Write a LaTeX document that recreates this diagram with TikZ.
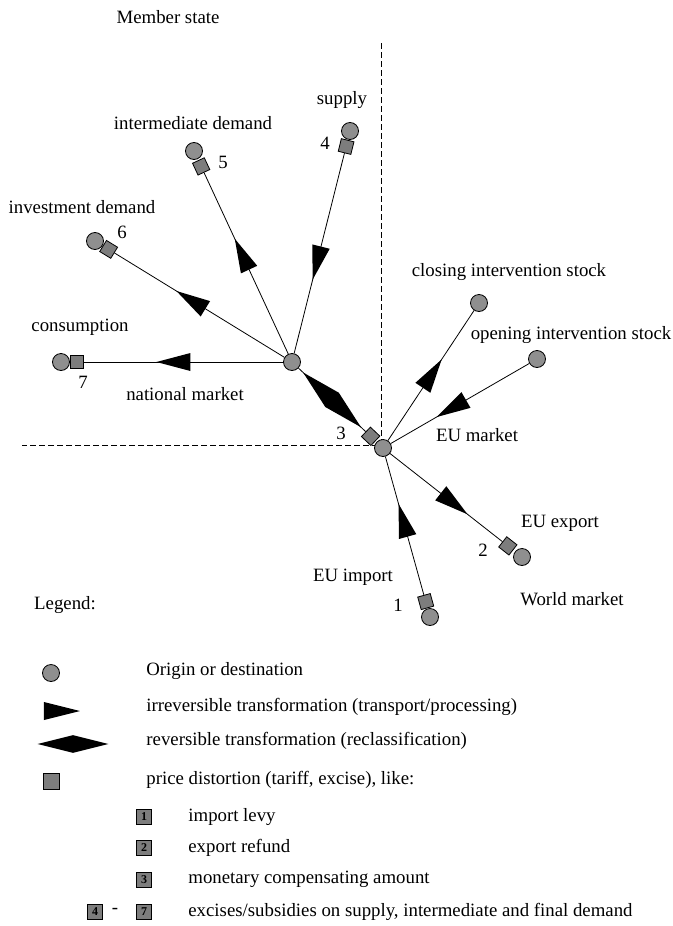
\documentclass[tikz,border=0pt]{standalone}
\usepackage{fontspec}
\setmainfont{Liberation Serif}
\usetikzlibrary{shapes.geometric, calc}
\definecolor{cdot}{HTML}{8F8F8F}
\definecolor{cbox}{HTML}{7D7D7D}
\tikzset{
  every picture/.style={x=0.5pt, y=-0.5pt, line width=0.4pt},
  every node/.style={font=\fontsize{9.4}{11}\selectfont, inner sep=0pt},
  place/.style={circle, draw, fill=cdot, minimum size=8.5pt},
  dist/.style={rectangle, draw, fill=cbox, minimum size=6.5pt},
  tri/.style={isosceles triangle, isosceles triangle stretches, fill=black, minimum width=9pt, minimum height=17pt},
  flow/.style={tri, sloped, allow upside down, pos=0.5},
  revflow/.style={diamond, fill=black, aspect=4, minimum width=40pt, minimum height=10pt, sloped, allow upside down, pos=0.5},
  border/.style={dash pattern=on 3pt off 1.5pt},
  keybox/.style={rectangle, draw, fill=cbox, minimum size=7.5pt, font=\fontsize{6}{6}\selectfont\bfseries},
}

\begin{document}
\begin{tikzpicture}
  \useasboundingbox (0,0) rectangle (673,926);
  % market borders
  \coordinate (corner) at (381,445);
  \coordinate (msTop) at (381,43);
  \coordinate (msLeft) at (22,445);
  \draw[border] (msTop) -- (corner) -- (msLeft);
  \node (ms) at (168,17) {Member state};

  % markets
  \node[place] (nat) at (292,362) {};
  \node[place] (eu) at (383,448) {};
  \node (tnat) at (185,394) {national market};
  \node (teu) at (477,435) {EU market};

  % national side
  \node[place] (sup) at (350,131) {};
  \node[dist, rotate=-14] (p4) at ($(sup)!8pt!(nat)$) {};
  \node[place] (int) at (194,151) {};
  \node[dist, rotate=25] (p5) at ($(int)!8.5pt!(nat)$) {};
  \node[place] (inv) at (95,241) {};
  \node[dist, rotate=-31.5] (p6) at ($(inv)!8pt!(nat)$) {};
  \node[place] (con) at (61,362) {};
  \node[dist] (p7) at ($(con)!8pt!(nat)$) {};
  \node[dist, rotate=46.6] (p3) at ($(eu)!8.5pt!(nat)$) {};

  \node (tsup) at (342,100) {supply};
  \node (tint) at (193,123) {intermediate demand};
  \node (tinv) at (82,207) {investment demand};
  \node (tcon) at (80,327) {consumption};
  \node (n4) at (325,143) {4};
  \node (n5) at (223,162) {5};
  \node (n6) at (122,232) {6};
  \node (n7) at (83,382) {7};
  \node (n3) at (341,433) {3};

  \draw (p4) -- node[flow] {} (nat);
  \draw (nat) -- node[flow] {} (p5);
  \draw (nat) -- node[flow] {} (p6);
  \draw (nat) -- node[flow] {} (p7);
  \draw (nat) -- node[revflow] {} (p3);

  % EU side
  \node[place] (cls) at (479,303) {};
  \node[place] (opn) at (537,359) {};
  \node[place] (exp) at (522,557) {};
  \node[dist, rotate=51.9] (p2) at ($(exp)!9pt!(eu)$) {};
  \node[place] (imp) at (430,617) {};
  \node[dist, rotate=15.5] (p1) at ($(imp)!8pt!(eu)$) {};

  \node (tcls) at (509,272) {closing intervention stock};
  \node (topn) at (571,335) {opening intervention stock};
  \node (texp) at (560,523) {EU export};
  \node (timp) at (353,577) {EU import};
  \node (twld) at (572,599) {World market};
  \node (n2) at (483,550) {2};
  \node (n1) at (398,605) {1};

  \draw (eu) -- node[flow, pos=0.45] {} (cls);
  \draw (opn) -- node[flow] {} (eu);
  \draw (eu) -- node[flow] {} (p2);
  \draw (p1) -- node[flow, pos=0.47] {} (eu);

  % legend
  \node (leg) at (65,605) {Legend:};
  \node[place] (kplace) at (51,673) {};
  \node[tri, minimum height=18pt] (kflow) at (51,711) {};
  \node[diamond, fill=black, aspect=4, minimum width=35.5pt, minimum height=9pt] (krev) at (73,744) {};
  \node[dist, minimum size=8pt] (kdist) at (51,781) {};
  \node[anchor=west] (tplace) at (146,671) {Origin or destination};
  \node[anchor=west] (tflow) at (146,707) {irreversible transformation (transport/processing)};
  \node[anchor=west] (trev) at (146,741) {reversible transformation (reclassification)};
  \node[anchor=west] (tdist) at (146,780) {price distortion (tariff, excise), like:};
  \node[keybox] (k1) at (144,817) {1};
  \node[keybox] (k2) at (144,848) {2};
  \node[keybox] (k3) at (144,880) {3};
  \node[keybox] (k7) at (144,912) {7};
  \node[keybox] (k4) at (95,912) {4};
  \node (kdash) at (115,911) {-};
  \node[anchor=west] (t1) at (188,817) {import levy};
  \node[anchor=west] (t2) at (188,848) {export refund};
  \node[anchor=west] (t3) at (188,879) {monetary compensating amount};
  \node[anchor=west] (t47) at (188,912) {excises/subsidies on supply, intermediate and final demand};
\end{tikzpicture}
\end{document}
